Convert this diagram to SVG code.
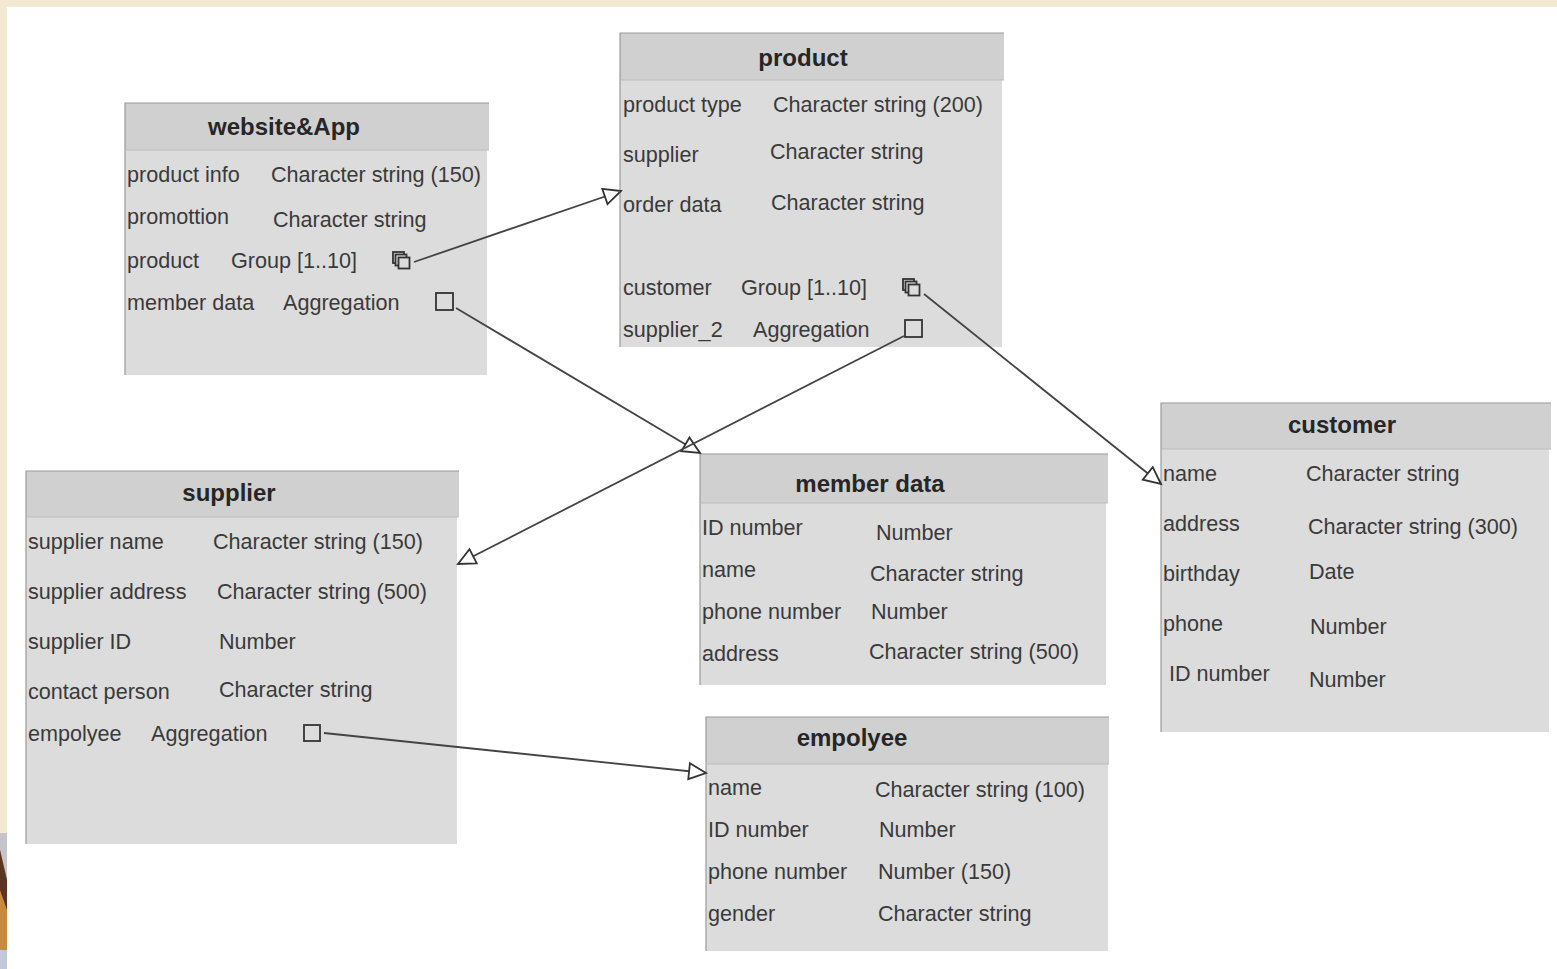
<svg xmlns="http://www.w3.org/2000/svg" width="1557" height="969" viewBox="0 0 1557 969">
<style>
text{font-family:"Liberation Sans",Arial,sans-serif;font-size:21.6px;fill:#3a3a3a}
.t{font-weight:bold;font-size:24px;fill:#262626;text-anchor:middle}
.b{fill:#dcdcdc}
.h{fill:#d0d0d0}
.e{stroke:#9a9a9a;stroke-width:1.2;fill:none}
.l{stroke:#bcbcbc;stroke-width:1;fill:none}
.s{fill:none;stroke:#333;stroke-width:1.8}
.c line{stroke:#444;stroke-width:1.8;marker-end:url(#a)}
</style>
<defs>
<marker id="a" markerUnits="userSpaceOnUse" markerWidth="24" markerHeight="22" refX="20" refY="10" orient="auto"><path d="M3 2 L20 10 L3 18 Z" fill="#fff" stroke="#333" stroke-width="1.8"/></marker>
<g id="m"><rect x="-8" y="-8" width="11" height="11" class="s" style="fill:#dcdcdc"/><rect x="-5.500" y="-5.500" width="11" height="11" class="s" style="fill:#dcdcdc"/><rect x="-2.500" y="-2.500" width="11" height="11" class="s" style="fill:#dcdcdc"/></g>
</defs>
<rect width="1557" height="969" fill="#fff"/>
<path d="M0 0H1557V7H7V833H0Z" fill="#f3e8d2"/>
<path d="M0 833H7V969H0Z" fill="#c98a3c"/>
<path d="M0 833H7V880L0 850Z" fill="#c4c4ca"/>
<path d="M0 850L7 880V910L0 890Z" fill="#5a3524"/>
<path d="M0 950H7V969H0Z" fill="#c3c8d8"/>
<g id="website-app">
<rect class="b" x="125" y="103" width="362" height="272"/><rect class="h" x="125" y="103" width="364" height="47"/>
<path class="e" d="M125 375V103H489"/><path class="l" d="M125 150H489"/>
<text class="t" x="284" y="135">website&amp;App</text>
<text x="127" y="182">product info</text><text x="271" y="182">Character string (150)</text>
<text x="127" y="224">promottion</text><text x="273" y="227">Character string</text>
<text x="127" y="268">product</text><text x="231" y="268">Group [1..10]</text>
<use href="#m" x="401" y="260"/>
<text x="127" y="310">member data</text><text x="283" y="310">Aggregation</text>
<rect class="s" x="436" y="293" width="17" height="17"/>
</g>
<g id="product">
<rect class="b" x="620" y="33" width="382" height="314"/><rect class="h" x="620" y="33" width="384" height="47"/>
<path class="e" d="M620 347V33H1004"/><path class="l" d="M620 80H1004"/>
<text class="t" x="803" y="66">product</text>
<text x="623" y="112">product type</text><text x="773" y="112">Character string (200)</text>
<text x="623" y="162">supplier</text><text x="770" y="159">Character string</text>
<text x="623" y="212">order data</text><text x="771" y="210">Character string</text>
<text x="623" y="295">customer</text><text x="741" y="295">Group [1..10]</text>
<use href="#m" x="911" y="287"/>
<text x="623" y="337">supplier_2</text><text x="753" y="337">Aggregation</text>
<rect class="s" x="905" y="320" width="17" height="17"/>
</g>
<g id="supplier">
<rect class="b" x="26" y="471" width="431" height="373"/><rect class="h" x="26" y="471" width="433" height="46"/>
<path class="e" d="M26 844V471H459"/><path class="l" d="M26 517H459"/>
<text class="t" x="229" y="501">supplier</text>
<text x="28" y="549">supplier name</text><text x="213" y="549">Character string (150)</text>
<text x="28" y="599">supplier address</text><text x="217" y="599">Character string (500)</text>
<text x="28" y="649">supplier ID</text><text x="219" y="649">Number</text>
<text x="28" y="699">contact person</text><text x="219" y="697">Character string</text>
<text x="28" y="741">empolyee</text><text x="151" y="741">Aggregation</text>
<rect class="s" x="304" y="725" width="16" height="16"/>
</g>
<g id="member-data">
<rect class="b" x="700" y="454" width="406" height="231"/><rect class="h" x="700" y="454" width="408" height="49"/>
<path class="e" d="M700 685V454H1108"/><path class="l" d="M700 503H1108"/>
<text class="t" x="870" y="492">member data</text>
<text x="702" y="535">ID number</text><text x="876" y="540">Number</text>
<text x="702" y="577">name</text><text x="870" y="581">Character string</text>
<text x="702" y="619">phone number</text><text x="871" y="619">Number</text>
<text x="702" y="661">address</text><text x="869" y="659">Character string (500)</text>
</g>
<g id="empolyee">
<rect class="b" x="706" y="717" width="402" height="234"/><rect class="h" x="706" y="717" width="403" height="47"/>
<path class="e" d="M706 951V717H1109"/><path class="l" d="M706 764H1109"/>
<text class="t" x="852" y="746">empolyee</text>
<text x="708" y="795">name</text><text x="875" y="797">Character string (100)</text>
<text x="708" y="837">ID number</text><text x="879" y="837">Number</text>
<text x="708" y="879">phone number</text><text x="878" y="879">Number (150)</text>
<text x="708" y="921">gender</text><text x="878" y="921">Character string</text>
</g>
<g id="customer">
<rect class="b" x="1161" y="403" width="388" height="329"/><rect class="h" x="1161" y="403" width="390" height="46"/>
<path class="e" d="M1161 732V403H1551"/><path class="l" d="M1161 449H1551"/>
<text class="t" x="1342" y="433">customer</text>
<text x="1163" y="481">name</text><text x="1306" y="481">Character string</text>
<text x="1163" y="531">address</text><text x="1308" y="534">Character string (300)</text>
<text x="1163" y="581">birthday</text><text x="1309" y="579">Date</text>
<text x="1163" y="631">phone</text><text x="1310" y="634">Number</text>
<text x="1169" y="681">ID number</text><text x="1309" y="687">Number</text>
</g>
<g id="connectors" class="c">
<line x1="414" y1="262" x2="621" y2="191"/>
<line x1="456" y1="308" x2="700" y2="453"/>
<line x1="904" y1="336" x2="458" y2="564"/>
<line x1="924" y1="294" x2="1161" y2="484"/>
<line x1="324" y1="733" x2="706" y2="773"/>
</g>
</svg>
